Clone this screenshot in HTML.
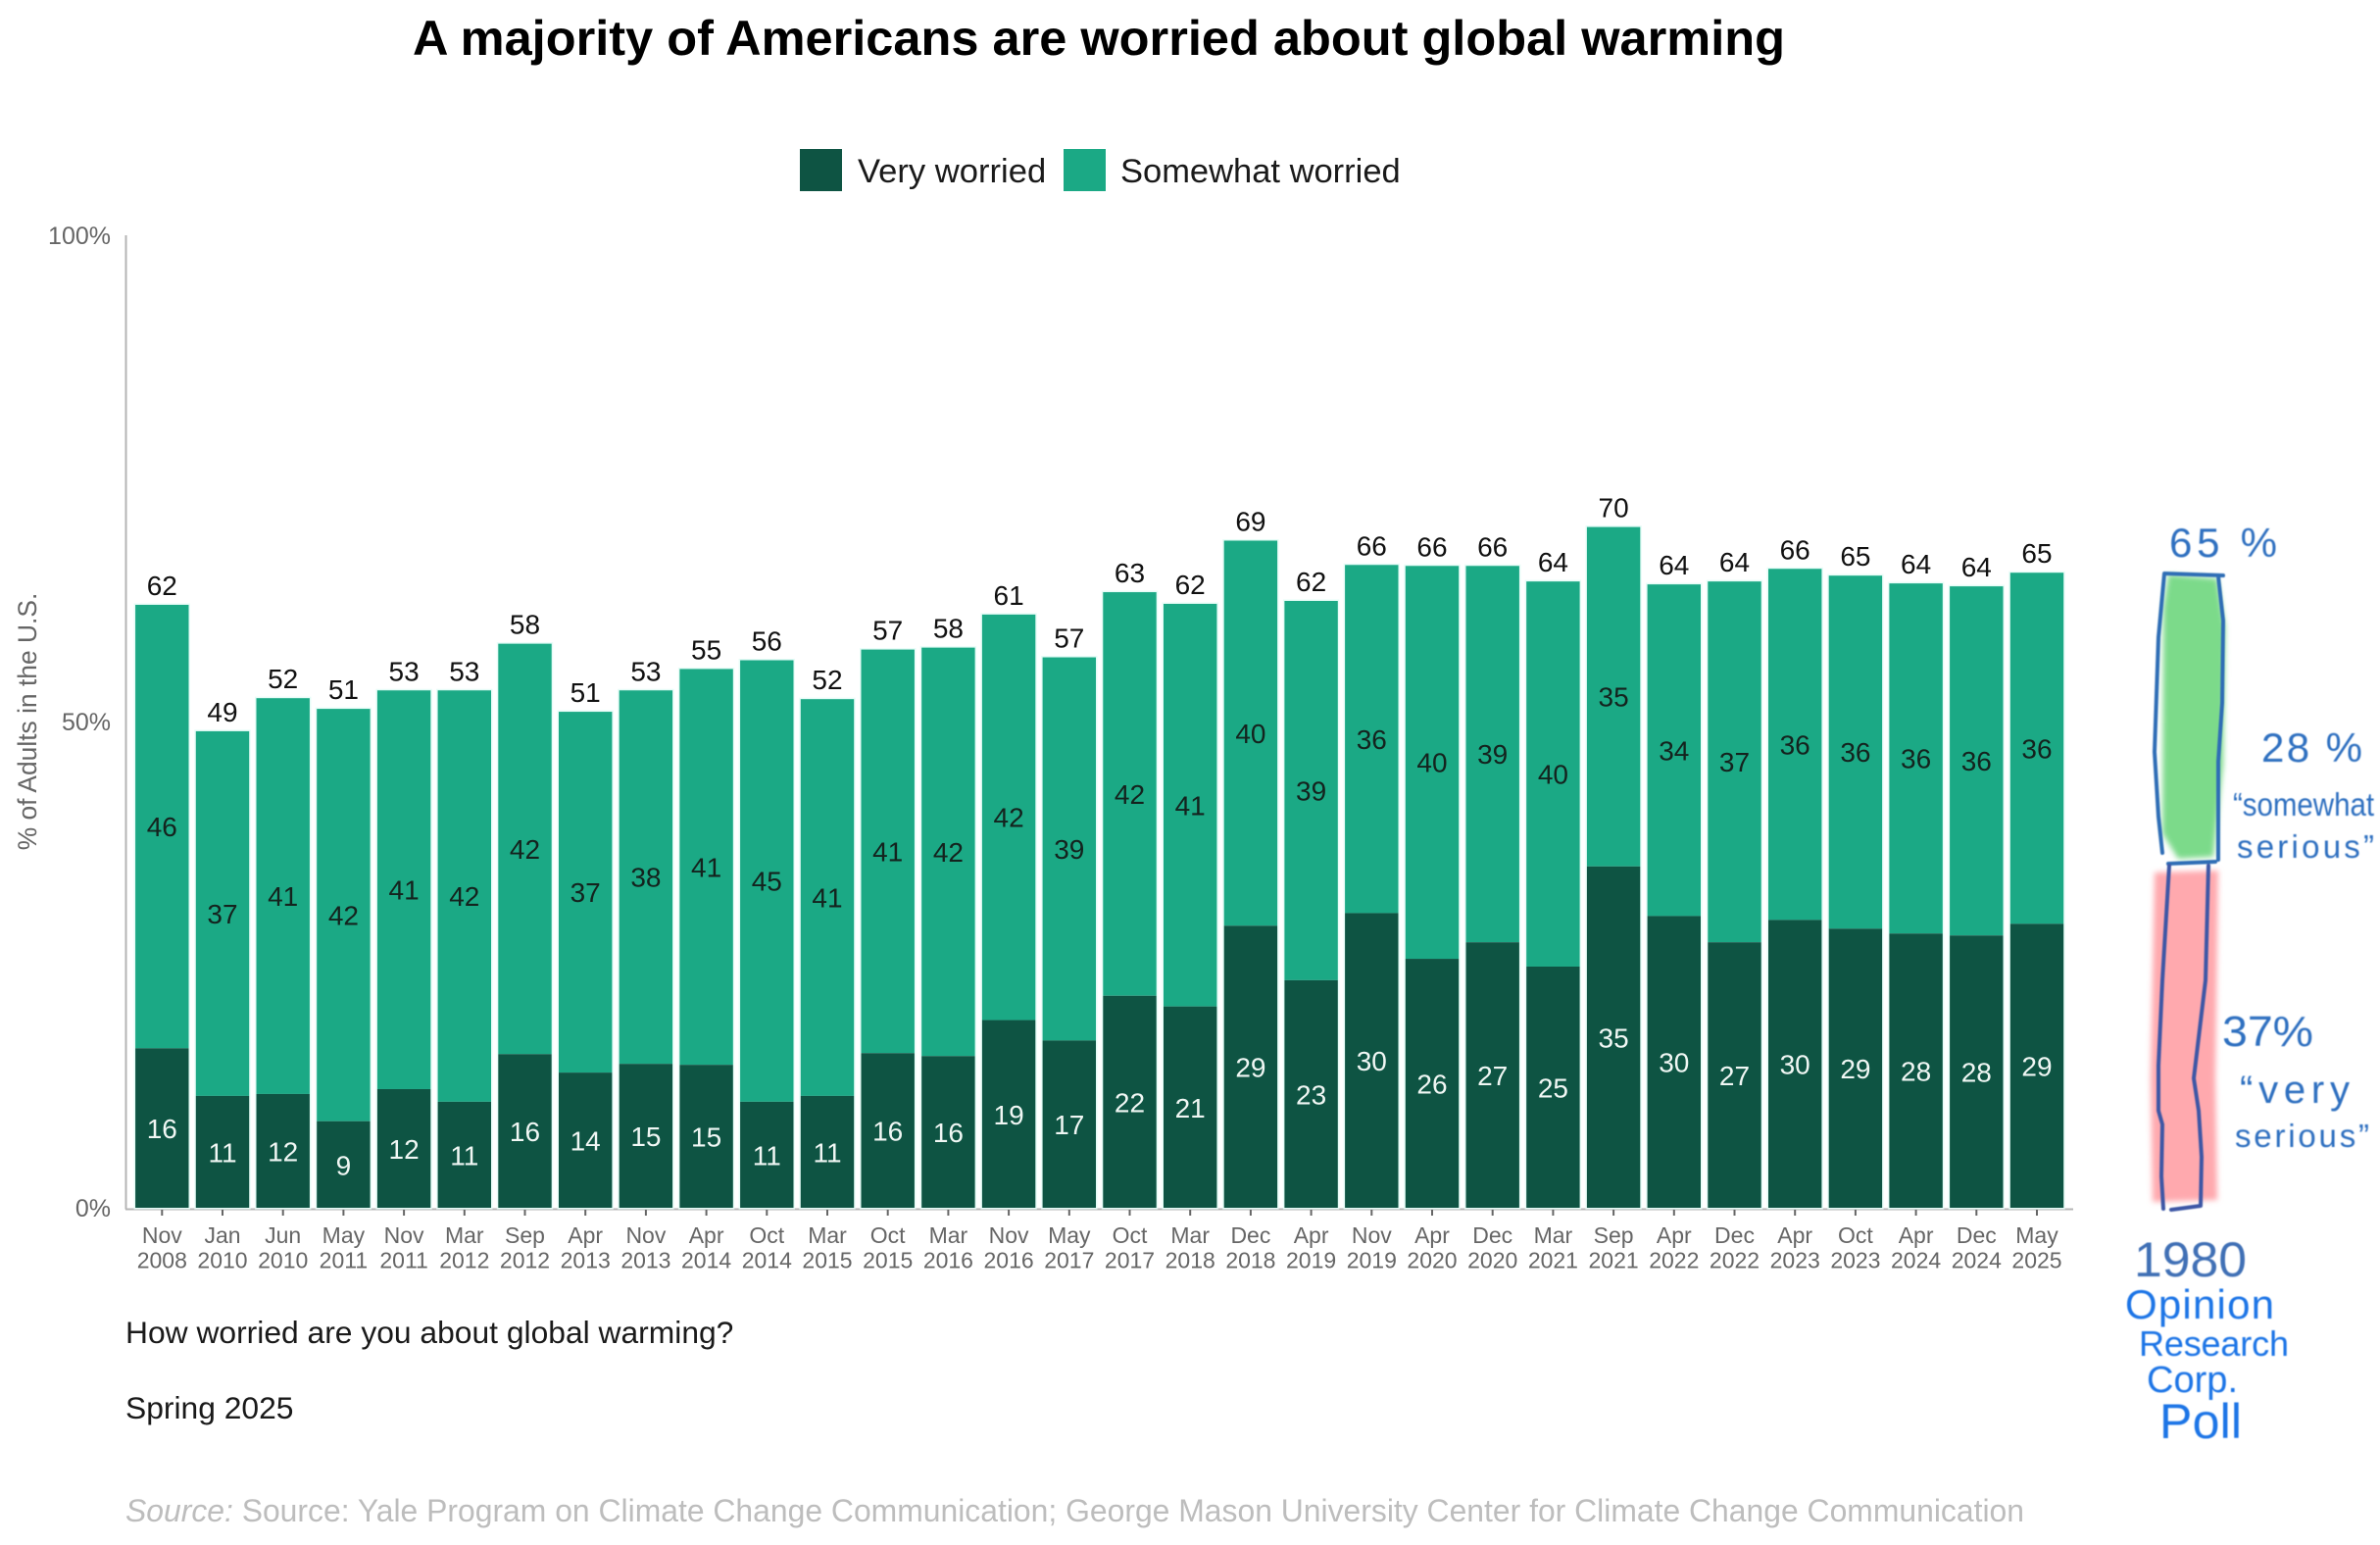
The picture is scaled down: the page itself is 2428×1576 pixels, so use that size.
<!DOCTYPE html>
<html lang="en">
<head>
<meta charset="utf-8">
<title>A majority of Americans are worried about global warming</title>
<style>
  html, body { margin: 0; padding: 0; background: #ffffff; }
  svg { display: block; font-family: "Liberation Sans", Arial, sans-serif; }
</style>
</head>
<body>
<svg id="chart" xmlns="http://www.w3.org/2000/svg" width="2428" height="1576" viewBox="0 0 2428 1576">
  <rect x="0" y="0" width="2428" height="1576" fill="#ffffff"/>
  <text x="421" y="56" font-size="50" font-weight="700" fill="#000000" textLength="1400" lengthAdjust="spacingAndGlyphs">A majority of Americans are worried about global warming</text>

  <g>
    <rect x="816" y="152" width="43" height="43" fill="#0e5443"/>
    <text x="875" y="186" font-size="34.6" fill="#1a1a1a">Very worried</text>
    <rect x="1085" y="152" width="43" height="43" fill="#1ba985"/>
    <text x="1143" y="186" font-size="34.5" fill="#1a1a1a">Somewhat worried</text>
  </g>

  <text transform="translate(37,736) rotate(-90)" text-anchor="middle" font-size="26.4" fill="#666666">% of Adults in the U.S.</text>

  <g id="plot"></g>

  <text x="128" y="1370" font-size="31.8" fill="#1a1a1a">How worried are you about global warming?</text>
  <text x="128" y="1447" font-size="31.8" fill="#1a1a1a">Spring 2025</text>
  <text x="128" y="1552" font-size="32" fill="#bdbdbd" textLength="1937" lengthAdjust="spacingAndGlyphs"><tspan font-style="italic">Source:</tspan> Source: Yale Program on Climate Change Communication; George Mason University Center for Climate Change Communication</text>

  <defs>
    <filter id="soft" x="-20%" y="-10%" width="140%" height="120%"><feGaussianBlur stdDeviation="3"/></filter>
    <filter id="softInk" x="-10%" y="-10%" width="120%" height="120%"><feGaussianBlur stdDeviation="0.6"/></filter>
  </defs>

  <g>
    <path filter="url(#soft)" d="M2212 586 L2262 590 L2270 640 L2268 780 L2258 874 L2222 876 L2206 850 L2207 620 Z" fill="#7bda8a"/>
    <path filter="url(#soft)" d="M2198 890 L2263 888 L2260 1100 L2262 1224 L2196 1226 L2194 1100 Z" fill="#ffa9ae"/>
    <g fill="none" stroke-linecap="round" stroke-linejoin="round" filter="url(#softInk)">
      <path stroke="#2f6db5" stroke-width="4" d="M2206 870 L2202 833 L2198 767 L2202 650 L2208 585 L2268 587 M2263 588 L2268 633 L2267 717 L2263 777 L2263 877 M2212 881 L2260 879"/>
      <path stroke="#3d57a5" stroke-width="4" d="M2213 883 L2206 1000 L2202 1087 L2202 1133 L2206 1147 L2205 1200 L2207 1233 M2215 1234 L2245 1230 L2246 1180 L2243 1133 L2238 1100 L2250 1000 L2253 883"/>
    </g>
    <g font-family="'Liberation Sans', sans-serif" filter="url(#softInk)">
      <text x="2213" y="568" font-size="42" fill="#2f6fc0" textLength="110" lengthAdjust="spacing">65 %</text>
      <text x="2307" y="777" font-size="42" fill="#2f6fc0" textLength="103" lengthAdjust="spacing">28 %</text>
      <text x="2278" y="832" font-size="33" fill="#2f6fc0" textLength="144" lengthAdjust="spacingAndGlyphs">“somewhat</text>
      <text x="2282" y="875" font-size="33" fill="#2f6fc0" textLength="140" lengthAdjust="spacing">serious”</text>
      <text x="2267" y="1067" font-size="44" fill="#2f6fc0" textLength="93" lengthAdjust="spacingAndGlyphs">37%</text>
      <text x="2285" y="1125" font-size="40" fill="#2f6fc0" textLength="112" lengthAdjust="spacing">“very</text>
      <text x="2280" y="1170" font-size="33" fill="#2f6fc0" textLength="137" lengthAdjust="spacing">serious”</text>
      <text x="2177" y="1302" font-size="50" fill="#3f6fb5" textLength="115" lengthAdjust="spacingAndGlyphs">1980</text>
      <text x="2168" y="1345" font-size="42" fill="#1f75e6" textLength="152" lengthAdjust="spacing">Opinion</text>
      <text x="2182" y="1383" font-size="36" fill="#1f75e6" textLength="153" lengthAdjust="spacing">Research</text>
      <text x="2190" y="1420" font-size="38" fill="#1f75e6" textLength="93" lengthAdjust="spacing">Corp.</text>
      <text x="2203" y="1467" font-size="50" fill="#1f75e6" textLength="84" lengthAdjust="spacing">Poll</text>
    </g>
  </g>
</svg>
<script>
const months = ["Nov","Jan","Jun","May","Nov","Mar","Sep","Apr","Nov","Apr","Oct","Mar","Oct","Mar","Nov","May","Oct","Mar","Dec","Apr","Nov","Apr","Dec","Mar","Sep","Apr","Dec","Apr","Oct","Apr","Dec","May"];
const years = ["2008","2010","2010","2011","2011","2012","2012","2013","2013","2014","2014","2015","2015","2016","2016","2017","2017","2018","2018","2019","2019","2020","2020","2021","2021","2022","2022","2023","2023","2024","2024","2025"];
const veryWorried = [16.4,11.5,11.7,8.9,12.2,10.9,15.8,13.9,14.8,14.7,10.9,11.5,15.9,15.6,19.3,17.2,21.8,20.7,29,23.4,30.3,25.6,27.3,24.8,35.1,30,27.3,29.6,28.7,28.2,28,29.2];
const somewhatWorried = [45.6,37.5,40.7,42.4,41,42.3,42.2,37.1,38.4,40.7,45.4,40.8,41.5,42,41.7,39.4,41.5,41.4,39.6,39,35.8,40.4,38.7,39.6,34.9,34.1,37.1,36.1,36.3,36,35.9,36.1];
const veryLabels = [16,11,12,9,12,11,16,14,15,15,11,11,16,16,19,17,22,21,29,23,30,26,27,25,35,30,27,30,29,28,28,29];
const somewhatLabels = [46,37,41,42,41,42,42,37,38,41,45,41,41,42,42,39,42,41,40,39,36,40,39,40,35,34,37,36,36,36,36,36];
const totalLabels = [62,49,52,51,53,53,58,51,53,55,56,52,57,58,61,57,63,62,69,62,66,66,66,64,70,64,64,66,65,64,64,65];
const yTicks = [0,50,100];

const SVG_NS = "http://www.w3.org/2000/svg";
const plot = document.getElementById("plot");
const plotLeft = 134.45, band = 61.7, barWidth = 54.4;
const baseY = 1232, topY = 240;
function x(i) { return plotLeft + band * i + band / 2; }
function y(v) { return baseY - (baseY - topY) * v / 100; }
function node(tag, attrs, text) {
  const el = document.createElementNS(SVG_NS, tag);
  for (const k in attrs) el.setAttribute(k, attrs[k]);
  if (text !== undefined) el.textContent = text;
  plot.appendChild(el);
  return el;
}

const yLine = node("line", {x1:128.5, x2:128.5, y1:topY, y2:baseY+1.5, stroke:"#b5b5b5", "stroke-width":2});



const xLine = node("line", {x1:128, x2:2115, y1:baseY+1.5, y2:baseY+1.5, stroke:"#b5b5b5", "stroke-width":2});



yTicks.forEach(function (t) {
  const lab = node("text", {x:113, y:y(t)+9, "text-anchor":"end", "font-size":25, fill:"#666666"}, t + "%");
  
  
});

months.forEach(function (m, i) {
  const cx = x(i);
  const left = cx - barWidth / 2;
  const very = veryWorried[i];
  const some = somewhatWorried[i];
  const total = very + some;

  const halo = node("rect", {x:left, y:y(total), width:barWidth, height:baseY-y(total), fill:"none", stroke:"#e6fcf7", "stroke-width":3});
  
  

  const top = node("rect", {x:left, y:y(total), width:barWidth, height:y(very)-y(total), fill:"#1ba985"});
  
  

  const bottom = node("rect", {x:left, y:y(very), width:barWidth, height:baseY-y(very), fill:"#0e5443"});
  
  

  const vLab = node("text", {x:cx, y:y(very/2)+10.5, "text-anchor":"middle", "font-size":28, fill:"#f0f7f4"}, veryLabels[i]);
  
  

  const sLab = node("text", {x:cx, y:y(very+some/2)+10, "text-anchor":"middle", "font-size":28, fill:"#14231e"}, somewhatLabels[i]);
  
  

  const tLab = node("text", {x:cx, y:y(total)-10, "text-anchor":"middle", "font-size":28, fill:"#111111"}, totalLabels[i]);
  
  

  const tick = node("line", {x1:cx, x2:cx, y1:baseY+2, y2:baseY+8, stroke:"#666666", "stroke-width":2});
  
  

  const mLab = node("text", {x:cx, y:1268, "text-anchor":"middle", "font-size":23, fill:"#666666"}, m);
  
  

  const yLab = node("text", {x:cx, y:1293.5, "text-anchor":"middle", "font-size":23, fill:"#666666"}, years[i]);
  
  
});
</script>
</body>
</html>
